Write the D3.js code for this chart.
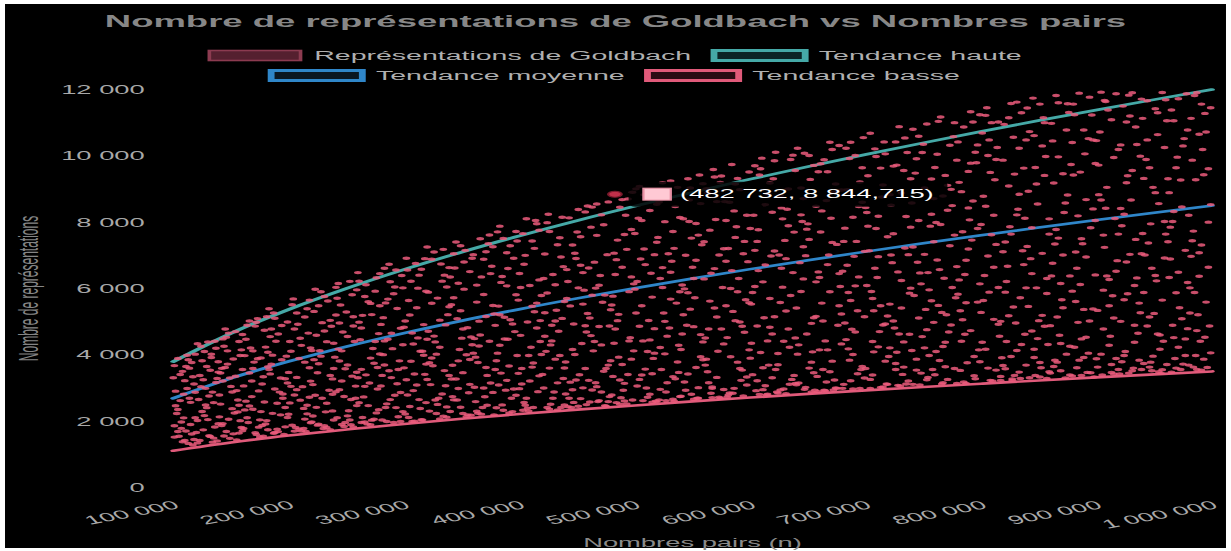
<!DOCTYPE html>
<html>
<head>
<meta charset="utf-8">
<script src="https://cdn.jsdelivr.net/npm/d3@7"></script>
<style>
  html, body { margin: 0; padding: 0; background: #fff; overflow: hidden; }
  svg { display: block; }
</style>
</head>
<body>
<svg id="chart"></svg>
<script>
// ---- Data -------------------------------------------------------------
// Goldbach representation counts: [even number n in thousands, count]
const goldbachPoints = [
[103,2231],[117,1284],[108,3502],[101,1863],[112,2985],[119,4020],[105,1547],[114,2690],[100,3310],[110,1419],[116,3768],[102,2466],[107,1975],[118,3122],[104,3892],[111,1702],[115,2568],[106,3405],[113,1330],[109,2814],[119,2102],[101,3676],[116,1612],[104,2351],[110,3221],[107,1783],[114,3598],[102,2905],[118,1448],[112,3986],
[121,1345],[134,2876],[127,4102],[139,1920],[123,3377],[131,1561],[136,4411],[125,2293],[129,3650],[138,1402],[122,2655],[133,3921],[126,1738],[137,3164],[130,2047],[124,4260],[135,1489],[128,2489],[132,3533],[120,1659],[139,3790],[127,2168],[124,3041],[136,1826],[121,4336],[131,2760],[134,1367],[129,2407],[138,3289],[133,4018],
[141,2514],[155,1437],[148,4655],[143,3210],[158,2016],[146,1689],[152,3874],[140,2789],[157,4402],[144,1552],[150,3048],[153,2245],[147,4120],[159,1808],[142,3593],[156,2637],[149,1482],[145,4781],[151,2377],[154,3356],[143,1926],[158,3980],[140,2130],[147,3720],[155,2921],[146,4530],[152,1617],[141,3452],[157,2480],[144,4260],
[162,3977],[175,1522],[168,2741],[171,4866],[164,2105],[178,3340],[160,1711],[173,5093],[166,2458],[177,1873],[169,3590],[163,4471],[176,2289],[161,3064],[172,1601],[167,4208],[174,2912],[179,4740],[165,1960],[170,3781],[163,2603],[178,1549],[168,3212],[160,4612],[175,2040],[166,3451],[172,4981],[161,1780],[176,3907],[169,2360],
[181,2017],[194,4885],[187,1634],[199,3152],[183,5390],[190,2540],[185,3718],[197,1829],[180,4233],[192,2876],[188,5104],[196,1599],[184,3425],[191,4627],[186,2236],[198,3961],[182,1742],[195,2693],[189,4410],[193,3301],[180,1915],[187,5260],[197,2412],[183,3560],[191,1685],[185,4781],[199,2110],[194,3850],[188,2970],[182,4080],
[203,5512],[211,1703],[207,3319],[216,2480],[201,4402],[219,1954],[209,3890],[205,2791],[214,5140],[200,2210],[217,4655],[212,3041],[206,1811],[218,3612],[204,5687],[210,2634],[215,1688],[202,4110],[213,2385],[208,4920],[219,3208],[203,1877],[216,5390],[207,2950],[211,4286],[200,3470],[214,2063],[205,4777],[218,2722],[209,1760],
[221,3102],[236,1742],[228,5901],[224,2417],[233,4398],[239,2033],[226,3730],[222,5310],[231,1860],[237,4861],[229,2690],[225,3459],[234,5622],[220,1973],[238,3274],[227,4122],[232,2281],[223,5978],[235,2930],[230,1781],[224,4590],[239,3588],[221,2156],[236,5040],[228,3960],[233,2541],[226,1905],[231,4720],[238,2812],[222,3855],
[242,2101],[255,5813],[248,1842],[251,3695],[244,4960],[259,2470],[246,3212],[253,6215],[241,2889],[257,4401],[249,1960],[245,5502],[258,3058],[243,4173],[252,2314],[256,1823],[240,3930],[250,5290],[254,2652],[247,4688],[259,3475],[241,6034],[253,2035],[244,3816],[256,5150],[248,2743],[251,4554],[246,1899],[255,3358],[242,5705],
[263,4811],[271,1890],[267,3397],[276,6322],[261,2555],[279,4023],[269,5601],[264,2110],[274,3744],[260,6480],[277,2968],[266,1978],[272,5213],[278,2344],[262,4457],[270,3150],[275,5920],[265,2732],[273,4190],[268,1911],[279,5480],[263,3563],[276,2250],[261,4985],[271,3902],[267,6111],[274,2060],[260,3310],[278,4640],[266,5757],
[281,2036],[294,5399],[287,3521],[299,2288],[283,6610],[290,4187],[285,1988],[297,4802],[280,3060],[292,6044],[288,2651],[296,3819],[284,5566],[291,1961],[298,6391],[286,4470],[293,2409],[282,5121],[289,3313],[295,2134],[280,4918],[287,6730],[297,2865],[283,3694],[291,5840],[285,2522],[299,4302],[294,3126],[288,6205],[282,4005],
[302,6911],[315,2043],[308,4325],[311,3090],[304,5640],[319,2560],[306,3806],[313,6402],[301,2217],[317,4911],[309,1999],[305,5203],[318,3411],[303,2790],[312,6010],[316,4107],[300,3608],[310,6757],[314,2380],[307,4660],[319,5917],[302,3250],[315,6580],[304,2110],[311,5420],[308,2922],[317,3987],[300,4830],[313,2650],[306,6220],
[322,2304],[335,6402],[328,4021],[331,2069],[324,5557],[339,3380],[326,7102],[333,2820],[321,4711],[337,6045],[329,2506],[325,3670],[338,5211],[320,7250],[334,2152],[327,4390],[332,6738],[323,3102],[336,4902],[330,2691],[339,6630],[321,5890],[335,3525],[328,2231],[331,5045],[324,3906],[337,2430],[326,4565],[333,6222],[320,3256],
[341,5510],[354,2136],[347,3818],[359,6912],[343,2642],[350,4503],[345,7402],[357,3110],[340,2290],[352,5981],[348,4160],[356,2855],[344,6620],[351,3463],[358,2180],[346,5087],[353,7151],[342,3688],[349,2420],[355,4820],[340,6345],[347,2985],[359,4305],[343,5723],[351,2230],[345,3270],[357,6510],[354,4002],[349,7290],[342,2740],
[361,3021],[374,7611],[367,2211],[379,4889],[363,6102],[370,2736],[365,4267],[377,5488],[360,7020],[372,3380],[368,2410],[376,6671],[364,3770],[371,5154],[378,2190],[366,4598],[373,7352],[362,2590],[369,5820],[375,3150],[360,4050],[367,6350],[379,3560],[363,2300],[371,7110],[365,5015],[377,2868],[374,4410],[369,6880],[362,3930],
[381,7708],[394,2288],[387,5133],[399,3442],[383,4290],[390,6605],[385,2490],[397,5812],[380,3820],[392,7290],[388,2935],[396,4701],[384,6184],[391,2250],[398,3979],[386,7511],[393,2690],[382,5470],[389,3230],[395,6911],[380,2405],[387,4478],[399,5650],[383,7880],[391,3665],[385,6360],[397,2780],[394,4930],[389,7080],[382,3090],
[402,3120],[415,7954],[408,2305],[411,5467],[404,6733],[419,4010],[406,2690],[413,7210],[401,4587],[417,3366],[409,6091],[405,2480],[418,5032],[403,7655],[412,3752],[416,2890],[400,6451],[410,4230],[414,8050],[407,2390],[419,5790],[402,3590],[415,4811],[404,2565],[411,7430],[408,3978],[417,6260],[400,2980],[413,5300],[406,8101],
[421,6302],[436,2412],[428,4420],[424,7985],[433,3156],[439,5610],[426,2358],[422,7041],[431,3870],[437,5098],[429,2690],[425,8240],[434,4712],[420,3410],[438,6660],[427,2510],[432,5342],[423,4105],[435,7530],[430,2880],[424,5866],[439,3602],[421,2999],[436,6950],[428,4890],[433,2340],[426,7720],[431,6111],[438,3285],[422,4560],
[442,2433],[455,6480],[448,4012],[451,8380],[444,3177],[459,5244],[446,7311],[453,2680],[441,5702],[457,3590],[449,6906],[445,2410],[458,4690],[443,8130],[452,3398],[456,5950],[440,2820],[450,7705],[454,4342],[447,2566],[459,8488],[442,6210],[455,3004],[444,5476],[451,2450],[448,7062],[457,4877],[440,3785],[453,6699],[446,2945],
[461,5112],[474,2467],[467,7603],[479,3820],[463,2941],[470,6390],[465,4402],[477,8611],[460,3230],[472,5585],[468,2590],[476,7020],[464,4120],[471,8220],[478,2740],[466,6012],[473,3505],[462,7850],[469,4855],[475,2455],[460,6620],[467,3040],[479,5360],[463,8455],[471,2880],[465,6795],[477,3690],[474,5801],[469,2620],[462,4580],
[481,3350],[494,8702],[487,2511],[499,6140],[483,4780],[490,2930],[485,7460],[497,3870],[480,5501],[492,8210],[488,2705],[496,4515],[484,6870],[491,3140],[498,8902],[486,5220],[493,2520],[482,7066],[489,3710],[495,5905],[480,2790],[487,8450],[499,4120],[483,6420],[491,2610],[485,5030],[497,7780],[494,3408],[489,6640],[482,4350],
[502,6211],[515,2570],[508,8830],[511,4102],[504,3260],[519,7394],[506,5480],[513,2811],[501,9005],[517,4790],[509,3570],[505,6890],[518,2605],[503,8120],[512,5035],[516,3892],[500,7660],[510,2998],[514,6460],[507,4420],[519,8540],[502,3060],[515,5740],[504,9080],[511,2720],[508,7190],[517,4050],[500,5980],[513,8350],[506,3390],
[521,2642],[534,7211],[528,4563],[524,9190],[533,3344],[539,5903],[526,8015],[522,2960],[531,6489],[537,3785],[529,8890],[525,5260],[534,2610],[520,7540],[538,4290],[527,2880],[532,6820],[523,3560],[535,8470],[530,4810],[524,6030],[539,2740],[521,8610],[536,5560],[528,3160],[533,7720],[526,4030],[531,9240],[538,3470],[522,6300],
[542,8102],[555,3010],[548,5377],[551,2660],[544,7002],[559,4390],[546,9311],[553,3620],[541,6105],[557,8560],[549,2811],[545,4890],[558,7320],[543,3180],[552,5720],[556,9420],[540,4160],[550,6640],[554,2690],[547,8020],[559,3850],[542,5210],[555,7610],[544,2930],[551,6300],[548,9030],[557,4610],[540,2750],[553,7960],[546,5870],
[561,4506],[574,9201],[567,2710],[579,6820],[563,3490],[570,8080],[565,5620],[577,2955],[560,7410],[572,4110],[568,9590],[576,6030],[564,3160],[571,5140],[578,8620],[566,2840],[573,7010],[562,3870],[569,9360],[575,4780],[560,6290],[567,2990],[579,5480],[563,8890],[571,3320],[565,7760],[577,4330],[574,2690],[569,6600],[562,9010],
[581,7207],[594,2760],[587,5030],[599,9512],[583,3944],[590,6301],[585,2840],[597,8210],[580,4520],[592,3230],[588,7860],[596,5660],[584,9740],[591,3590],[598,6810],[586,2990],[593,4860],[582,8600],[589,3780],[595,7420],[580,2730],[587,9150],[599,4150],[583,6000],[591,8980],[585,5310],[597,3330],[594,7050],[589,5900],[582,2850],
[602,3402],[615,8860],[608,2805],[611,6200],[604,9701],[619,4630],[606,7420],[613,3070],[601,5530],[617,9180],[609,4070],[605,2920],[618,6980],[603,8210],[612,5120],[616,3690],[600,7810],[610,9930],[614,2790],[607,6540],[619,3310],[602,5880],[615,4420],[604,7150],[611,2950],[608,9420],[617,5700],[600,3900],[613,8530],[606,4870],
[621,9851],[634,3112],[628,6040],[624,2850],[633,7890],[639,4510],[626,8802],[622,3560],[631,5320],[637,10020],[629,2970],[625,7010],[634,4230],[620,9310],[638,3380],[627,6610],[632,8390],[623,2880],[635,5790],[630,7450],[624,4040],[639,9560],[621,5150],[636,3260],[628,8100],[633,4780],[626,2940],[631,6900],[638,7700],[622,10110],
[642,4301],[655,9712],[648,3020],[651,7480],[644,5910],[659,2890],[646,8710],[653,3780],[641,10230],[657,6200],[649,4630],[645,8020],[658,3350],[643,6780],[652,9290],[656,2930],[640,5410],[650,7950],[654,4090],[647,10080],[659,6500],[642,3150],[655,5120],[644,9030],[651,3600],[648,6990],[657,8480],[640,3100],[653,4950],[646,7260],
[661,7705],[674,3002],[667,9520],[679,5230],[663,3560],[670,8120],[665,4420],[677,10310],[660,6330],[672,2940],[668,7010],[676,4890],[664,9880],[671,3810],[678,6060],[666,8650],[673,3240],[662,5560],[669,10410],[675,2990],[660,4150],[667,6720],[679,8970],[663,5020],[671,7390],[665,2920],[677,6450],[674,9150],[669,3490],[662,8340],
[681,3110],[694,8470],[687,5640],[699,3300],[683,10230],[690,6970],[685,4180],[697,9640],[680,2990],[692,7420],[688,4770],[696,3560],[684,8980],[691,6080],[698,10550],[686,3840],[693,5330],[682,7820],[689,2970],[695,9210],[680,6520],[687,3220],[699,7120],[683,4460],[691,10010],[685,5880],[697,3650],[694,6350],[689,8150],[682,4960],
[702,9401],[715,3030],[708,6610],[711,4240],[704,10680],[719,7560],[706,3390],[713,5480],[701,8290],[717,3810],[709,9980],[705,5910],[718,3120],[703,7140],[712,4700],[716,10420],[700,3590],[710,6330],[714,8760],[707,4090],[719,5170],[702,7880],[715,9120],[704,3260],[711,6960],[708,10210],[717,4930],[700,8440],[713,3020],[706,5700],
[721,5530],[734,10540],[728,3080],[724,7650],[733,4390],[739,9310],[726,3560],[722,8510],[731,6240],[737,3210],[729,10880],[725,4810],[734,7220],[720,3950],[738,5860],[727,9720],[732,3410],[723,6780],[735,8170],[730,3060],[724,5020],[739,7850],[721,4210],[736,10100],[728,6500],[733,9560],[726,3740],[731,8880],[738,4620],[722,7010],
[741,10802],[754,3320],[748,6140],[751,9030],[744,3870],[759,7410],[746,5110],[753,10960],[741,3110],[757,8240],[749,4550],[745,6790],[758,3560],[743,9480],[752,5370],[756,7880],[740,4130],[750,10350],[754,6480],[747,3090],[759,8710],[742,5790],[755,3980],[744,9910],[751,7030],[748,3450],[757,5630],[740,8580],[753,4760],[746,10590],
[761,4102],[774,8990],[767,3160],[779,6660],[763,11040],[770,5210],[765,7930],[777,3590],[760,9650],[772,4690],[768,6310],[776,10580],[764,3830],[771,8360],[778,5720],[766,3120],[773,7290],[762,10050],[769,4380],[775,6030],[760,3400],[767,8790],[779,9870],[763,5490],[771,3260],[765,11170],[777,7610],[774,4900],[769,9410],[762,6860],
[781,9201],[794,3370],[787,6850],[799,11240],[783,4410],[790,8070],[785,3180],[797,5590],[780,10420],[792,7460],[788,3760],[796,9790],[784,5060],[791,11330],[798,4150],[786,6420],[793,8640],[782,3530],[789,7190],[795,10110],[780,5830],[787,3140],[799,6140],[783,8920],[791,4730],[785,10870],[797,7810],[794,3950],[789,9530],[782,5330],
[802,5640],[815,11020],[808,3230],[811,8210],[804,4170],[819,9870],[806,6980],[813,3540],[801,10690],[817,5010],[809,7620],[805,11450],[818,3910],[803,6390],[812,9280],[816,4560],[800,7930],[810,3210],[814,10250],[807,5890],[819,3680],[802,8780],[815,4920],[804,11220],[811,6640],[808,9500],[817,3350],[800,5280],[813,7330],[806,10010],
[821,7402],[834,3290],[828,10560],[824,5180],[833,8840],[839,3690],[826,11580],[822,6210],[831,4130],[837,9630],[829,3380],[825,7860],[834,5720],[820,10950],[838,4620],[827,3230],[832,8390],[823,6670],[835,11300],[830,4960],[824,9090],[839,6020],[821,3580],[836,7140],[828,5440],[833,10230],[826,3950],[831,11620],[838,8120],[822,4400],
[842,3310],[855,9410],[848,6020],[851,11560],[844,4720],[859,7640],[846,3920],[853,10300],[841,5460],[857,3290],[849,8550],[845,11740],[858,4310],[843,6900],[852,3610],[856,9980],[840,7270],[850,5030],[854,11150],[847,3380],[859,8100],[842,10730],[855,4860],[844,6450],[851,3770],[848,9150],[857,5850],[840,11440],[853,7060],[846,4170],
[861,10980],[874,4020],[867,7520],[879,3360],[863,9180],[870,5660],[865,11820],[877,6380],[860,3450],[872,8290],[868,4590],[876,11310],[864,3840],[871,7010],[878,9740],[866,5140],[873,3300],[862,10450],[869,6150],[875,8820],[860,4880],[867,11600],[879,5920],[863,3650],[871,9460],[865,7780],[877,4260],[874,10780],[869,3520],[862,6760],
[881,4230],[894,11770],[887,3380],[899,8050],[883,6610],[890,10060],[885,3840],[897,5380],[880,9420],[892,3470],[888,7350],[896,11230],[884,4980],[891,8680],[898,3330],[886,6120],[893,10520],[882,5610],[889,3920],[895,7830],[880,11560],[887,4480],[899,9770],[883,3610],[891,6950],[885,11890],[897,8400],[894,5020],[889,10780],[882,7100],
[902,8830],[915,3420],[908,11640],[911,6270],[904,4020],[919,10190],[906,7610],[913,3710],[901,5340],[917,11870],[909,9050],[905,3390],[918,6840],[903,10720],[912,4560],[916,8110],[900,3880],[910,11380],[914,5780],[907,7240],[919,3560],[902,9720],[915,5110],[904,11920],[911,4290],[908,8420],[917,6520],[900,10460],[913,3470],[906,5950],
[921,5010],[934,10870],[928,3450],[924,8240],[933,4380],[939,11710],[926,6800],[922,3790],[931,9560],[937,5560],[929,11200],[925,4100],[934,7480],[920,3420],[938,9990],[927,5840],[932,3600],[923,11500],[935,6320],[930,8670],[924,3980],[939,7050],[921,10330],[936,4650],[928,11830],[933,6090],[926,9190],[931,3520],[938,5270],[922,7890],
[941,9320],[954,3490],[948,6610],[951,11420],[944,4870],[959,8020],[946,3630],[953,10640],[941,5880],[957,11910],[949,3960],[945,7370],[958,4410],[943,9890],[952,6230],[956,3440],[940,11130],[950,5250],[954,8560],[947,3780],[959,10250],[942,7010],[955,4170],[944,11660],[951,8890],[948,3520],[957,5650],[940,7660],[953,4630],[946,9640],
[961,3710],[974,8460],[967,11060],[979,4790],[963,6330],[970,9960],[965,3480],[977,7150],[960,11690],[972,5420],[968,3890],[976,10520],[964,6890],[971,4230],[978,11870],[966,8020],[973,3560],[962,9310],[969,5870],[975,3720],[960,7640],[967,4520],[979,10780],[963,8890],[971,6490],[965,11380],[977,3980],[974,5090],[969,9640],[962,7410],
[981,6020],[994,11280],[987,3560],[999,8530],[983,9870],[990,4410],[985,11820],[997,6640],[980,3690],[992,10190],[988,5210],[996,3620],[984,7730],[991,11560],[998,4870],[986,9280],[993,3870],[982,6970],[989,10650],[995,5590],[980,8210],[987,11900],[999,4060],[983,7440],[991,3540],[985,5880],[997,9610],[994,4530],[989,7080],[982,11130],
[106,2620],[113,3850],[101,1520],[117,3340],[109,2100],[104,1690],[119,2870],[111,3650],[115,1900],[108,1380],
[125,3820],[132,1540],[128,2990],[137,4200],[121,2020],[135,2560],[123,1420],[139,3480],[130,4390],[126,3250],
[148,2060],[143,4480],[157,1640],[151,2880],[145,3620],[159,4150],[142,1870],[154,4700],[149,3300],[156,2280],
[164,4890],[171,1650],[177,3120],[162,2340],[169,4120],[174,1820],[160,3560],[166,5020],[179,2580],[173,3880],
[184,4550],[190,1760],[197,3280],[181,5150],[193,2190],[186,3990],[199,4990],[188,1660],[195,2820],[182,3640],
[207,5260],[213,1780],[219,4210],[202,3050],[216,2220],[205,1700],[210,4500],[218,5650],[201,2550],[214,3780],
[226,5480],[233,1810],[220,4130],[238,2310],[229,4970],[223,2780],[236,3380],[231,5760],[225,1880],[239,4350],
[246,4120],[254,1890],[241,5200],[258,2690],[249,3580],[243,6150],[256,4870],[251,2160],[244,2950],[259,5960],
[264,5190],[272,2030],[277,3620],[261,6220],[269,2470],[275,4400],[266,3050],[279,6450],[263,1960],[271,5550],
[284,2410],[293,6560],[289,4650],[281,3380],[297,1990],[286,5680],[292,2780],[299,6020],[283,4420],[295,3560],
[305,2440],[312,4510],[318,6900],[301,5020],[309,3420],[316,2040],[303,6560],[314,4110],[307,1990],[319,3720],
[324,6880],[331,4230],[337,2120],[322,3760],[339,5450],[327,2640],[334,7180],[320,4470],[329,5710],[336,3070],
[346,2640],[352,6800],[358,4540],[341,3270],[349,5330],[355,2190],[343,7050],[357,3860],[347,6160],[351,4780],
[366,7500],[372,2480],[378,5230],[361,4490],[369,3000],[375,6450],[364,2240],[377,7260],[363,5590],[371,3620],
[386,2330],[392,5060],[398,7430],[381,4050],[389,6080],[395,2970],[384,3450],[397,7720],[383,5210],[390,4470],
[405,7000],[412,2410],[418,4400],[401,6030],[409,3210],[415,5560],[403,2330],[417,7760],[407,4990],[411,3630],
[426,3600],[433,7320],[439,2490],[422,5270],[429,6420],[435,3980],[424,2410],[437,8150],[427,4300],[431,5020],
[446,4160],[453,7560],[458,2500],[441,6570],[449,3240],[455,5530],[443,2690],[457,8310],[447,4930],[451,6020],
[466,3160],[473,7920],[478,4870],[461,2580],[469,6100],[475,3590],[463,5800],[477,2590],[467,8550],[471,4300],
[486,3930],[493,7180],[498,2640],[481,5770],[489,8680],[495,4420],[484,2560],[497,6350],[487,3240],[491,7630],
[506,8050],[513,4450],[519,2590],[501,5260],[509,6720],[515,3430],[504,4860],[517,7020],[507,2620],[511,8860],
[526,5010],[533,2660],[539,8140],[522,4220],[529,7050],[535,3280],[524,6630],[537,9050],[527,2620],[531,5680],
[546,3420],[553,6850],[559,9160],[541,4630],[549,7520],[555,2690],[543,5990],[557,3940],[547,8670],[551,4850],
[566,6460],[573,2720],[579,8050],[561,3690],[569,5410],[575,9390],[564,4780],[577,7200],[567,3030],[571,8620],
[586,8340],[593,3540],[599,5570],[581,2790],[589,9320],[595,4680],[584,6540],[597,3090],[587,7540],[591,4990],
[606,3220],[613,6710],[619,8300],[601,4350],[609,9610],[615,2810],[604,6060],[617,4830],[607,7770],[611,3610],
[626,5580],[633,9000],[639,3140],[621,7130],[629,4410],[635,9890],[624,3700],[637,6480],[627,8430],[631,2830],
[646,6290],[653,2880],[659,9520],[641,4020],[649,7790],[655,3460],[644,8220],[657,5160],[647,2960],[651,10010],
[666,3180],[673,8900],[679,4330],[661,9760],[669,5900],[675,7330],[664,2930],[677,5480],[667,4150],[671,10190],
[686,9920],[693,3430],[699,5150],[681,7420],[689,4010],[695,2990],[684,6700],[697,8600],[687,10410],[691,4690],
[706,4400],[713,9630],[719,3110],[701,6090],[709,7810],[715,4900],[704,2990],[717,10060],[707,5330],[711,8180],
[726,10420],[733,3630],[739,6010],[721,8830],[729,4630],[735,3120],[724,9690],[737,7020],[727,4080],[731,5410],
[746,8050],[753,3250],[759,4980],[741,7250],[749,10100],[755,5960],[744,3540],[757,9300],[747,6470],[751,4210],
[766,5280],[773,10320],[779,3140],[761,7990],[769,3640],[775,8500],[764,6570],[777,11000],[767,4250],[771,9110],
[786,4620],[793,11020],[799,3790],[781,6260],[789,8430],[795,3280],[784,7710],[797,10330],[787,5570],[791,9780],
[806,3600],[813,9890],[819,7110],[801,4380],[809,11000],[815,6030],[804,8480],[817,3230],[807,10480],[811,5070],
[826,7640],[833,3480],[839,10480],[821,5890],[829,9450],[835,4310],[824,11150],[837,6720],[827,3270],[831,8220],
[846,10610],[853,5190],[859,3490],[841,8930],[849,4490],[855,11000],[844,7830],[857,6300],[847,9650],[851,3330],
[866,3780],[873,8580],[879,10400],[861,6380],[869,4340],[875,11570],[864,7340],[877,3390],[867,9970],[871,5420],
[886,9510],[893,4050],[899,6410],[881,11240],[889,5370],[895,3460],[884,8190],[897,10480],[887,7500],[891,4530],
[906,4780],[913,11090],[919,7640],[901,3630],[909,6380],[915,9950],[904,8670],[917,3890],[907,11670],[911,5480],
[926,11020],[933,4890],[939,3560],[921,8410],[929,7030],[935,10340],[924,5660],[937,3840],[927,9400],[931,11900],
[946,5140],[953,11300],[959,6920],[941,3740],[949,9050],[955,4600],[944,10480],[957,3550],[947,7950],[951,6390],
[966,4890],[973,9270],[979,6180],[961,11060],[969,3600],[975,10300],[964,7850],[977,4480],[967,8320],[971,11720],
[986,3980],[993,9430],[999,11450],[981,5260],[989,6370],[995,10720],[984,3630],[997,8000],[987,4730],[991,7310]
];

// Trend curves sampled every 50 000
const trendN    = [100000,150000,200000,250000,300000,350000,400000,450000,500000,550000,600000,650000,700000,750000,800000,850000,900000,950000,1000000];
const trendHigh = [3795,4648,5367,6000,6573,7099,7589,8050,8485,8899,9295,9675,10040,10392,10733,11064,11384,11696,12000];
const trendMid  = [2688,3292,3801,4250,4655,5029,5376,5702,6010,6304,6584,6853,7112,7361,7603,7837,8064,8285,8500];
const trendLow  = [1107,1356,1565,1750,1917,2071,2214,2348,2475,2596,2711,2822,2928,3031,3130,3227,3320,3411,3500];

const xTickValues = [100000,200000,300000,400000,500000,600000,700000,800000,900000,1000000];
const yTickValues = [0,2000,4000,6000,8000,10000,12000];

// Highlighted point shown in the tooltip
const hoveredPoint = [482732, 8844.715];

const titleText  = "Nombre de représentations de Goldbach vs Nombres pairs";
const xAxisTitle = "Nombres pairs (n)";
const yAxisTitle = "Nombre de représentations";
const seriesLabels = ["Représentations de Goldbach", "Tendance haute", "Tendance moyenne", "Tendance basse"];

// ---- Layout -----------------------------------------------------------
// The chart is laid out on a 540-wide canvas and stretched to the window width.
const W = 540, H = 551;
const FONT = "'Liberation Sans', Arial, Helvetica, sans-serif";
const plot = { left: 76, right: 531.6, top: 89.5, bottom: 487.5 };

const colors = {
  points: "rgb(236,92,124)",
  high: "#45a9a7",
  mid: "#2f86c9",
  low: "#e05a7a"
};

const svg = d3.select("#chart")
  .attr("width", 1231).attr("height", 551)
  .attr("viewBox", `0 0 ${W} ${H}`)
  .attr("preserveAspectRatio", "none")
  .style("font-family", FONT);

// dark panel
svg.append("rect")
  .attr("x", 2.2).attr("y", 4).attr("width", W - 4.4).attr("height", H - 7)
  .attr("fill", "#000");

const locale = d3.formatLocale({ decimal: ",", thousands: "\u00a0", grouping: [3], currency: ["", " €"] });
const fmtInt = locale.format(",d");
const fmtDec = locale.format(",.3f");

const x = d3.scaleLinear().domain([100000, 1000000]).range([plot.left, plot.right]);
const y = d3.scaleLinear().domain([0, 12000]).range([plot.bottom, plot.top]);

// ---- Title ------------------------------------------------------------
svg.append("text")
  .attr("x", W / 2).attr("y", 27)
  .attr("text-anchor", "middle")
  .attr("font-size", 16).attr("font-weight", "bold")
  .attr("fill", "#878787")
  .text(titleText);

// ---- Legend -----------------------------------------------------------
const legendStyles = [
  { fill: "#55202f", stroke: "#8c3b50", sw: 1.6 },
  { fill: "#0c2526", stroke: colors.high, sw: 3 },
  { fill: "#0a1722", stroke: colors.mid, sw: 3 },
  { fill: "#2a0c14", stroke: colors.low, sw: 3 }
];
const legendRows = [[0, 1], [2, 3]];
const legendRowY = [55.5, 75.5];
legendRows.forEach((row, ri) => {
  const g = svg.append("g");
  let cx = 0;
  row.forEach(idx => {
    const st = legendStyles[idx];
    const ig = g.append("g").attr("transform", `translate(${cx},0)`);
    ig.append("rect")
      .attr("x", 0).attr("y", -5).attr("width", 40).attr("height", 10)
      .attr("fill", st.fill).attr("stroke", st.stroke).attr("stroke-width", st.sw);
    const t = ig.append("text")
      .attr("x", 46).attr("dy", "0.35em")
      .attr("font-size", 12.5).attr("fill", "#b0b0b0")
      .text(seriesLabels[idx]);
    cx += 46 + t.node().getComputedTextLength() + 10;
  });
  const total = cx - 10;
  g.attr("transform", `translate(${W / 2 - total / 2},${legendRowY[ri]})`);
});

// ---- Axes -------------------------------------------------------------
const yAxis = svg.append("g")
  .attr("transform", `translate(${plot.left},0)`)
  .call(d3.axisLeft(y).tickValues(yTickValues).tickFormat(fmtInt).tickSize(0).tickPadding(12.5));
yAxis.select(".domain").remove();
yAxis.selectAll("text").attr("font-size", 12).attr("fill", "#a8a8a8").attr("font-family", FONT);

const xAxis = svg.append("g")
  .attr("transform", `translate(0,${plot.bottom})`)
  .call(d3.axisBottom(x).tickValues(xTickValues).tickFormat(fmtInt).tickSize(0));
xAxis.select(".domain").remove();
xAxis.selectAll("text")
  .attr("font-size", 12).attr("fill", "#a8a8a8").attr("font-family", FONT)
  .attr("x", null).attr("y", null).attr("dy", null)
  .attr("text-anchor", "end")
  .attr("dominant-baseline", "middle")
  .attr("transform", "translate(1.5,17.5) rotate(-23)");

svg.append("text")
  .attr("x", (plot.left + plot.right) / 2).attr("y", 547)
  .attr("text-anchor", "middle")
  .attr("font-size", 12).attr("fill", "#8a8a8a")
  .text(xAxisTitle);

svg.append("text")
  .attr("transform", `translate(16.7,${(plot.top + plot.bottom) / 2}) rotate(-90)`)
  .attr("text-anchor", "middle")
  .attr("font-size", 12).attr("fill", "#858585")
  .text(yAxisTitle);

// ---- Trend lines ------------------------------------------------------
const line = d3.line()
  .x((d, i) => x(trendN[i]))
  .y(d => y(d))
  .curve(d3.curveMonotoneX);

[[trendLow, colors.low], [trendMid, colors.mid], [trendHigh, colors.high]].forEach(([vals, c]) => {
  svg.append("path")
    .attr("d", line(vals))
    .attr("fill", "none")
    .attr("stroke", c)
    .attr("stroke-width", 2.6)
    .attr("stroke-linecap", "round");
});

// ---- Scatter points ---------------------------------------------------
svg.append("g")
  .selectAll("circle")
  .data(goldbachPoints)
  .join("circle")
  .attr("cx", d => x(d[0] * 1000))
  .attr("cy", d => y(d[1]))
  .attr("r", 1.7)
  .attr("fill", colors.points)
  .attr("fill-opacity", 0.85);

// ---- Tooltip on the highlighted point --------------------------------
const px = x(hoveredPoint[0]), py = y(hoveredPoint[1]);
svg.append("circle")
  .attr("cx", px).attr("cy", py).attr("r", 3)
  .attr("fill", "#c0304a").attr("stroke", "#7a1a2c").attr("stroke-width", 1);

const tip = svg.append("g").attr("transform", `translate(${px + 6},${py})`);
const tipBg = tip.append("rect")
  .attr("x", 0).attr("y", -12.5).attr("height", 25).attr("rx", 3)
  .attr("fill", "rgba(0,0,0,0.85)");
tip.append("rect")
  .attr("x", 6.5).attr("y", -6).attr("width", 12).attr("height", 12)
  .attr("fill", "#ffc9d4").attr("stroke", "#e890a4").attr("stroke-width", 1);
const tipText = tip.append("text")
  .attr("x", 22.5).attr("dy", "0.35em")
  .attr("font-size", 12).attr("fill", "#ffffff")
  .text(`(${fmtInt(hoveredPoint[0])}, ${fmtDec(hoveredPoint[1])})`);
tipBg.attr("width", 22.5 + tipText.node().getComputedTextLength() + 6);
</script>
</body>
</html>
